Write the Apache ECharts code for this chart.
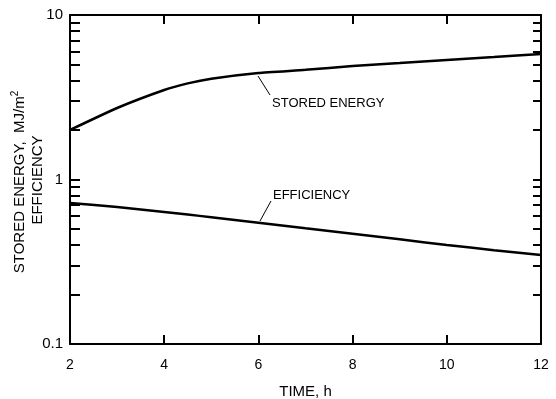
<!DOCTYPE html>
<html><head><meta charset="utf-8">
<script src="https://cdn.jsdelivr.net/npm/echarts@6/dist/echarts.min.js"></script>
<style>html,body{margin:0;padding:0;background:#fff}#c{width:556px;height:399px}</style>
</head><body><div id="c"></div>
<script>
const timeH = [2, 3, 4, 4.5, 5, 6, 7, 8, 9, 10, 11, 12];
const storedEnergy = [2.0, 2.72, 3.5, 3.84, 4.1, 4.44, 4.64, 4.9, 5.1, 5.33, 5.55, 5.8];
const efficiency = [0.72, 0.68, 0.635, 0.612, 0.59, 0.546, 0.505, 0.468, 0.433, 0.4, 0.372, 0.347];
const xTicks = [2, 4, 6, 8, 10, 12];
const yLabels = [0.1, 1, 10];
const yMinorTicks = [0.1,0.2,0.3,0.4,0.5,0.6,0.7,0.8,0.9,1,2,3,4,5,6,7,8,9,10];

const chart = echarts.init(document.getElementById('c'));
const FONT = 'Liberation Sans, Arial, sans-serif';
const axLine = {show: true, lineStyle: {color: '#000', width: 2}};
const pair = (a, b) => a.map((v, i) => [v, b[i]]);

chart.setOption({
  animation: false,
  grid: {left: 70, right: 15, top: 15, bottom: 55, outerBoundsMode: 'none', containLabel: false},
  xAxis: [{
    type: 'value', min: 2, max: 12, interval: 2, position: 'bottom',
    axisLine: axLine, splitLine: {show: false},
    axisTick: {inside: true, length: 9, lineStyle: {color: '#000', width: 2}},
    axisLabel: {color: '#000', fontSize: 14, fontFamily: FONT, margin: 14, customValues: xTicks},
    name: 'TIME, h', nameLocation: 'middle', nameGap: 40,
    nameTextStyle: {color: '#000', fontSize: 15, fontFamily: FONT}
  }, {
    type: 'value', min: 2, max: 12, interval: 2, position: 'top',
    axisLine: axLine, splitLine: {show: false},
    axisTick: {inside: true, length: 9, lineStyle: {color: '#000', width: 2}},
    axisLabel: {show: false}
  }],
  yAxis: [{
    type: 'log', logBase: 10, min: 0.1, max: 10, position: 'left',
    axisLine: axLine, splitLine: {show: false},
    axisTick: {inside: true, length: 10, customValues: yMinorTicks, lineStyle: {color: '#000', width: 2}},
    axisLabel: {color: '#000', fontSize: 15, fontFamily: FONT, margin: 7, customValues: yLabels,
      formatter: v => String(+(+v).toPrecision(3))}
  }, {
    type: 'log', logBase: 10, min: 0.1, max: 10, position: 'right',
    axisLine: axLine, splitLine: {show: false},
    axisTick: {inside: true, length: 8, customValues: yMinorTicks, lineStyle: {color: '#000', width: 2}},
    axisLabel: {show: false}
  }],
  series: [{
    type: 'line', name: 'STORED ENERGY', data: pair(timeH, storedEnergy),
    smooth: 0.15, showSymbol: false, lineStyle: {color: '#000', width: 2.5}
  }, {
    type: 'line', name: 'EFFICIENCY', data: pair(timeH, efficiency),
    smooth: 0.2, showSymbol: false, lineStyle: {color: '#000', width: 2.5}
  }],
  graphic: [
    {type: 'text', x: 20, y: 182, rotation: Math.PI / 2,
     style: {text: '{a|STORED ENERGY,  MJ/m}{s|2}', align: 'center', verticalAlign: 'middle',
       rich: {a: {fontSize: 15, fontFamily: FONT, fill: '#000'}, s: {fontSize: 10, fontFamily: FONT, fill: '#000', verticalAlign: 'top', padding: [0,0,10,0]}}}},
    {type: 'text', x: 38, y: 180, rotation: Math.PI / 2,
     style: {text: 'EFFICIENCY', align: 'center', verticalAlign: 'middle', fontSize: 15, fontFamily: FONT, fill: '#000'}},
    {type: 'text', x: 272, y: 103,
     style: {text: 'STORED ENERGY', align: 'left', verticalAlign: 'middle', fontSize: 13, fontFamily: FONT, fill: '#000'}},
    {type: 'text', x: 273, y: 195,
     style: {text: 'EFFICIENCY', align: 'left', verticalAlign: 'middle', fontSize: 13, fontFamily: FONT, fill: '#000'}},
    {type: 'line', shape: {x1: 258, y1: 76, x2: 270, y2: 95}, style: {stroke: '#000', lineWidth: 1}},
    {type: 'line', shape: {x1: 271, y1: 201, x2: 260, y2: 221}, style: {stroke: '#000', lineWidth: 1}}
  ]
});
</script></body></html>
